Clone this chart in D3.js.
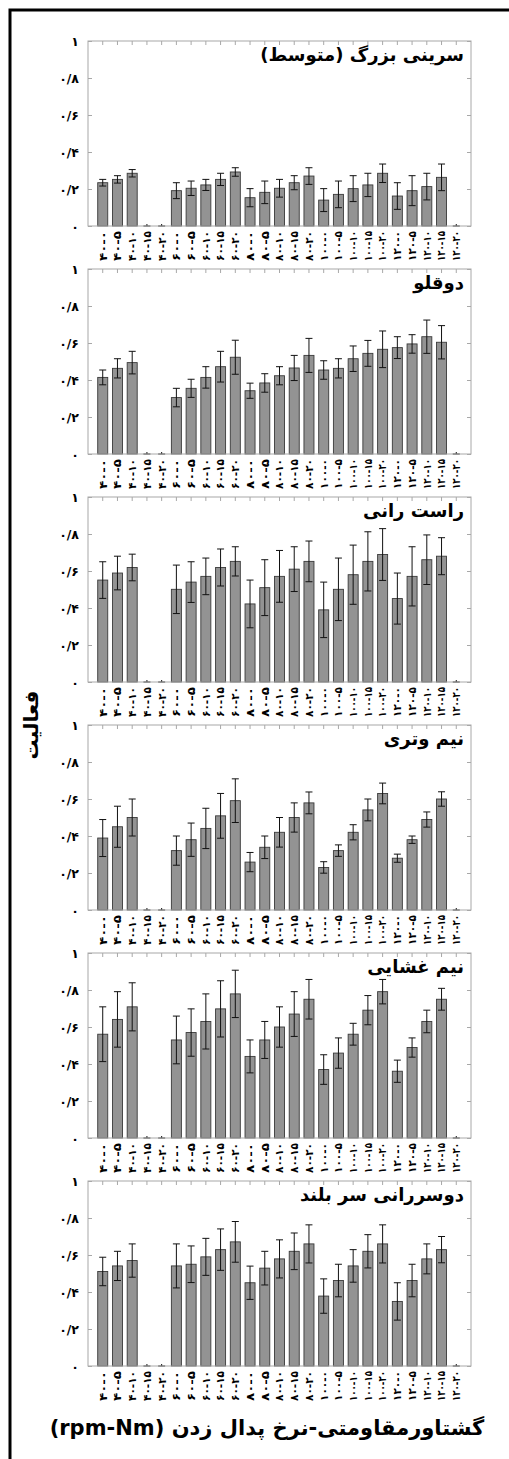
<!DOCTYPE html>
<html>
<head>
<meta charset="utf-8">
<script src="https://cdn.jsdelivr.net/npm/d3@7"></script>
<style>
  body { margin: 0; background: #fff; }
  text { font-family: "DejaVu Sans", sans-serif; font-weight: bold; }
</style>
</head>
<body>
<svg id="chart" width="509" height="1459"></svg>
<script>
// rate-torque categories (rpm-Nm)
const rates = ["۴۰", "۶۰", "۸۰", "۱۰۰", "۱۲۰"];
const torques = ["۰", "۵", "۱۰", "۱۵", "۲۰"];
const categories = [];
rates.forEach(r => torques.forEach(t => categories.push(r + "-" + t)));

const titles = ["سرینی بزرگ (متوسط)", "دوقلو", "راست رانی", "نیم وتری", "نیم غشایی", "دوسررانی سر بلند"];
const yTicks = [0, 0.2, 0.4, 0.6, 0.8, 1];
const yTickLabels = ["۰", "۰/۲", "۰/۴", "۰/۶", "۰/۸", "۱"];

// mean activity per muscle, 25 categories
const gluteus = [0.234, 0.252, 0.285, 0, 0, 0.191, 0.204, 0.222, 0.252, 0.292, 0.153, 0.182, 0.204, 0.234, 0.27, 0.14, 0.171, 0.202, 0.222, 0.285, 0.162, 0.191, 0.213, 0.263, 0];
const gluteusErr = [0.018, 0.02, 0.02, 0, 0, 0.043, 0.039, 0.03, 0.033, 0.023, 0.049, 0.061, 0.048, 0.038, 0.045, 0.062, 0.072, 0.07, 0.063, 0.05, 0.072, 0.081, 0.072, 0.072, 0];
const gastroc = [0.414, 0.463, 0.494, 0, 0, 0.305, 0.355, 0.414, 0.472, 0.523, 0.342, 0.384, 0.423, 0.465, 0.533, 0.454, 0.463, 0.515, 0.544, 0.566, 0.575, 0.595, 0.634, 0.604, 0];
const gastrocErr = [0.04, 0.052, 0.061, 0, 0, 0.05, 0.049, 0.058, 0.083, 0.092, 0.041, 0.05, 0.049, 0.068, 0.092, 0.05, 0.052, 0.069, 0.07, 0.099, 0.059, 0.05, 0.09, 0.09, 0];
const rectus = [0.551, 0.589, 0.619, 0, 0, 0.501, 0.54, 0.571, 0.619, 0.652, 0.422, 0.51, 0.571, 0.61, 0.652, 0.39, 0.501, 0.58, 0.652, 0.689, 0.451, 0.571, 0.661, 0.68, 0];
const rectusErr = [0.099, 0.091, 0.072, 0, 0, 0.131, 0.11, 0.099, 0.1, 0.079, 0.129, 0.151, 0.14, 0.121, 0.11, 0.15, 0.169, 0.16, 0.16, 0.14, 0.138, 0.16, 0.134, 0.1, 0];
const semitend = [0.389, 0.45, 0.5, 0, 0, 0.321, 0.38, 0.441, 0.509, 0.591, 0.259, 0.339, 0.42, 0.5, 0.579, 0.23, 0.321, 0.42, 0.541, 0.63, 0.28, 0.38, 0.489, 0.6, 0];
const semitendErr = [0.1, 0.111, 0.1, 0, 0, 0.079, 0.09, 0.109, 0.121, 0.118, 0.052, 0.061, 0.08, 0.079, 0.059, 0.031, 0.031, 0.041, 0.059, 0.056, 0.022, 0.02, 0.041, 0.039, 0];
const semimemb = [0.561, 0.641, 0.709, 0, 0, 0.53, 0.57, 0.63, 0.698, 0.779, 0.441, 0.53, 0.6, 0.67, 0.75, 0.37, 0.459, 0.561, 0.691, 0.791, 0.361, 0.489, 0.63, 0.75, 0];
const semimembErr = [0.148, 0.15, 0.13, 0, 0, 0.129, 0.128, 0.149, 0.152, 0.128, 0.089, 0.1, 0.109, 0.121, 0.107, 0.08, 0.082, 0.059, 0.079, 0.066, 0.06, 0.052, 0.061, 0.059, 0];
const biceps = [0.511, 0.541, 0.57, 0, 0, 0.541, 0.55, 0.59, 0.629, 0.671, 0.45, 0.529, 0.579, 0.62, 0.66, 0.378, 0.462, 0.541, 0.62, 0.66, 0.349, 0.462, 0.579, 0.629, 0];
const bicepsErr = [0.077, 0.079, 0.09, 0, 0, 0.119, 0.099, 0.1, 0.112, 0.11, 0.09, 0.091, 0.103, 0.099, 0.103, 0.093, 0.088, 0.088, 0.09, 0.103, 0.101, 0.088, 0.081, 0.071, 0];

const means = [gluteus, gastroc, rectus, semitend, semimemb, biceps];
const errs = [gluteusErr, gastrocErr, rectusErr, semitendErr, semimembErr, bicepsErr];

const svg = d3.select("#chart");
const left = 88, right = 471, top0 = 41, panelH = 185, panelStep = 228;

// outer frame
svg.append("path")
  .attr("d", "M10,1459 V10 H509")
  .attr("fill", "none").attr("stroke", "#000").attr("stroke-width", 3);

const x = d3.scaleBand().domain(categories).range([left, right])
  .paddingInner(0.32).paddingOuter(0.66);

means.forEach((vals, p) => {
  const top = top0 + p * panelStep;
  const bottom = top + panelH;
  const y = d3.scaleLinear().domain([0, 1]).range([bottom, top]);
  const g = svg.append("g");
  const rows = categories.map((c, i) => ({ c, v: vals[i], e: errs[p][i] }));

  // bars
  g.selectAll("rect.bar").data(rows.filter(d => d.v > 0)).enter().append("rect")
    .attr("class", "bar")
    .attr("x", d => x(d.c))
    .attr("y", d => y(d.v))
    .attr("width", x.bandwidth())
    .attr("height", d => y(0) - y(d.v))
    .attr("fill", "#939393").attr("stroke", "#3a3a3a").attr("stroke-width", 0.9);

  // error bars
  const capW = 3.5;
  const eb = g.selectAll("g.err").data(rows).enter().append("g").attr("class", "err");
  eb.append("line")
    .attr("x1", d => x(d.c) + x.bandwidth() / 2).attr("x2", d => x(d.c) + x.bandwidth() / 2)
    .attr("y1", d => y(Math.max(0, d.v - d.e))).attr("y2", d => d.v > 0 ? y(d.v + d.e) : y(0) - 2)
    .attr("stroke", "#111").attr("stroke-width", 1);
  eb.append("line")
    .attr("x1", d => x(d.c) + x.bandwidth() / 2 - capW).attr("x2", d => x(d.c) + x.bandwidth() / 2 + capW)
    .attr("y1", d => y(d.v + d.e)).attr("y2", d => y(d.v + d.e))
    .attr("stroke", "#111").attr("stroke-width", 1);
  eb.filter(d => d.v > 0).append("line")
    .attr("x1", d => x(d.c) + x.bandwidth() / 2 - capW).attr("x2", d => x(d.c) + x.bandwidth() / 2 + capW)
    .attr("y1", d => y(d.v - d.e)).attr("y2", d => y(d.v - d.e))
    .attr("stroke", "#111").attr("stroke-width", 1);

  // frame and mirrored ticks
  g.append("rect").attr("x", left).attr("y", top).attr("width", right - left).attr("height", panelH)
    .attr("fill", "none").attr("stroke", "#a8a8a8").attr("stroke-width", 1);

  const yAxisL = d3.axisLeft(y).tickValues(yTicks).tickSize(-4).tickFormat((d, i) => yTickLabels[i]);
  const ga = g.append("g").attr("transform", `translate(${left},0)`).call(yAxisL);
  ga.select(".domain").remove();
  ga.selectAll(".tick line").attr("stroke", "#a8a8a8");
  ga.selectAll(".tick text").attr("x", -9).attr("font-size", 12.5).attr("fill", "#000")
    .attr("font-family", "DejaVu Sans").attr("font-weight", "bold");

  const yAxisR = d3.axisRight(y).tickValues(yTicks).tickSize(-4).tickFormat("");
  const gr = g.append("g").attr("transform", `translate(${right},0)`).call(yAxisR);
  gr.select(".domain").remove();
  gr.selectAll(".tick line").attr("stroke", "#a8a8a8");

  const xAxisT = d3.axisTop(x).tickSize(-4).tickFormat("");
  const gt = g.append("g").attr("transform", `translate(0,${top})`).call(xAxisT);
  gt.select(".domain").remove();
  gt.selectAll(".tick line").attr("stroke", "#a8a8a8");

  // rotated category labels, all squeezed to the same length as in the original
  const xAxisB = d3.axisBottom(x).tickSize(0);
  const gb = g.append("g").attr("transform", `translate(0,${bottom})`).call(xAxisB);
  gb.select(".domain").remove();
  gb.selectAll(".tick text")
    .attr("direction", "ltr")
    .attr("font-size", 11).attr("fill", "#000")
    .attr("font-family", "DejaVu Sans").attr("font-weight", "bold")
    .attr("text-anchor", "end")
    .attr("textLength", 30).attr("lengthAdjust", "spacingAndGlyphs")
    .attr("transform", "translate(0,5) rotate(-90)")
    .attr("x", 0).attr("y", 0).attr("dy", "0.35em");

  // panel title
  g.append("text")
    .attr("x", right - 7).attr("y", top + 20)
    .attr("direction", "rtl").attr("text-anchor", "start")
    .attr("font-size", 18).text(titles[p]);
});

// axis titles
svg.append("text")
  .attr("transform", "translate(38,725) rotate(-90)")
  .attr("direction", "rtl").attr("text-anchor", "middle")
  .attr("font-size", 20).text("فعالیت");

svg.append("text")
  .attr("x", 267).attr("y", 1435)
  .attr("direction", "rtl").attr("text-anchor", "middle")
  .attr("font-size", 21).text("گشتاورمقاومتی-نرخ پدال زدن (rpm-Nm)");
</script>
</body>
</html>
